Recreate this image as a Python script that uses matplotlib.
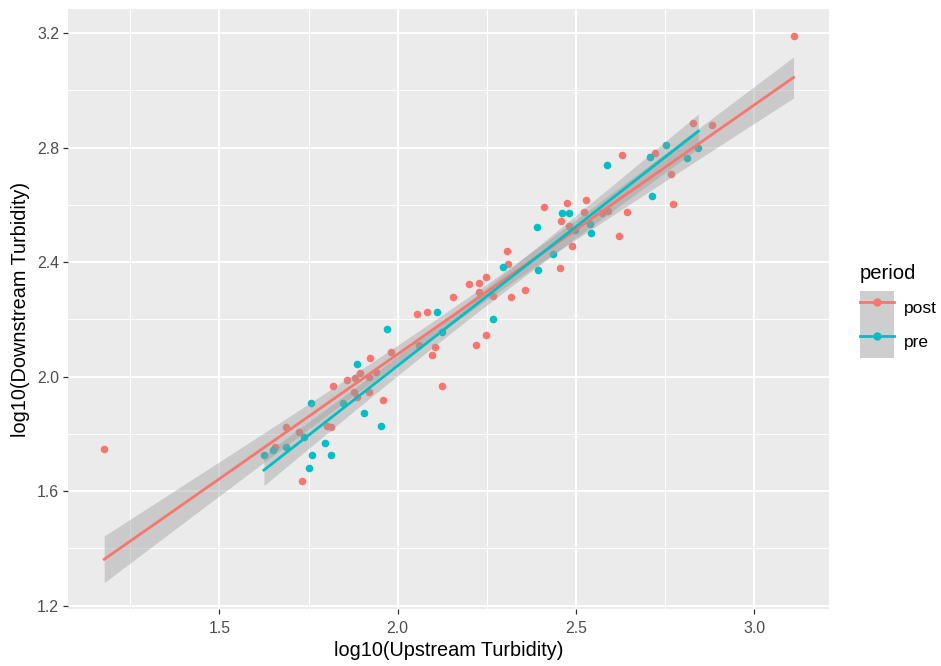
import numpy as np
import matplotlib
matplotlib.use("Agg")
import matplotlib.pyplot as plt
from matplotlib.lines import Line2D
from matplotlib.patches import Patch
from matplotlib.ticker import MultipleLocator, FormatStrFormatter

plt.rcParams['font.family'] = ['Liberation Sans', 'DejaVu Sans']

# log10 turbidity readings
post_up = [1.177, 3.110, 1.733, 1.686, 1.723, 1.656, 1.801, 1.812, 1.818, 1.857,
           1.880, 1.894, 1.922, 1.939, 1.920, 1.878, 1.920, 1.887, 1.958, 1.980,
           2.061, 2.097, 2.105, 2.053, 2.081, 2.125, 2.154, 2.199, 2.228, 2.248,
           2.228, 2.268, 2.317, 2.358, 2.248, 2.219, 2.306, 2.309, 2.454, 2.488,
           2.410, 2.476, 2.529, 2.459, 2.522, 2.480, 2.574, 2.591, 2.642, 2.621,
           2.630, 2.722, 2.766, 2.772, 2.829, 2.882]
post_down = [1.747, 3.190, 1.636, 1.823, 1.806, 1.755, 1.828, 1.825, 1.969, 1.988,
             1.994, 2.014, 2.064, 2.017, 1.998, 1.948, 1.948, 1.928, 1.919, 2.085,
             2.110, 2.075, 2.105, 2.218, 2.227, 1.969, 2.277, 2.323, 2.326, 2.349,
             2.297, 2.282, 2.277, 2.303, 2.146, 2.110, 2.439, 2.394, 2.379, 2.456,
             2.593, 2.606, 2.617, 2.545, 2.577, 2.525, 2.573, 2.580, 2.576, 2.491,
             2.775, 2.780, 2.708, 2.602, 2.886, 2.880]

pre_up = [1.625, 1.649, 1.686, 1.738, 1.756, 1.796, 1.759, 1.813, 1.750, 1.847,
          1.885, 1.905, 1.952, 1.971, 2.109, 2.124, 2.268, 2.295, 2.394, 2.435,
          2.390, 2.460, 2.481, 2.539, 2.541, 2.497, 2.586, 2.708, 2.752, 2.812,
          2.843, 2.712]
pre_down = [1.726, 1.744, 1.755, 1.791, 1.907, 1.767, 1.726, 1.726, 1.680, 1.909,
            2.044, 1.874, 1.827, 2.166, 2.227, 2.155, 2.202, 2.384, 2.373, 2.429,
            2.522, 2.571, 2.571, 2.535, 2.501, 2.514, 2.739, 2.766, 2.809, 2.765,
            2.798, 2.632]

periods = ['post', 'pre']
colours = {'post': '#F8766D', 'pre': '#00BFC4'}
data = {'post': (np.array(post_up), np.array(post_down)),
        'pre': (np.array(pre_up), np.array(pre_down))}


def t975(dof):
    # Cornish-Fisher approximation of the 0.975 t quantile
    z = 1.959964
    return z + (z**3 + z) / (4 * dof) + (5 * z**5 + 16 * z**3 + 3 * z) / (96 * dof**2)


def lm_band(x, y, n=80):
    b, a = np.polyfit(x, y, 1)
    xs = np.linspace(x.min(), x.max(), n)
    fit = a + b * xs
    resid = y - (a + b * x)
    dof = len(x) - 2
    s2 = np.sum(resid**2) / dof
    se = np.sqrt(s2 * (1 / len(x) + (xs - x.mean())**2 / np.sum((x - x.mean())**2)))
    t = t975(dof)
    return xs, fit, fit - t * se, fit + t * se


fig = plt.figure(figsize=(9.41, 6.66), dpi=100)
ax = fig.add_axes([68 / 941, 1 - 609 / 666, (829 - 68) / 941, 600 / 666])
ax.set_facecolor('#EBEBEB')

# points first, smooths on top (ggplot layer order)
for p in periods:
    x, y = data[p]
    ax.scatter(x, y, s=30, color=colours[p], linewidths=0, zorder=3)

for p in periods:
    x, y = data[p]
    xs, fit, lo, hi = lm_band(x, y)
    ax.fill_between(xs, lo, hi, color='#999999', alpha=0.4, lw=0, zorder=4)
    ax.plot(xs, fit, color=colours[p], lw=2.0, zorder=5)

ax.set_xlim(1.0754, 3.2095)
ax.set_ylim(1.1885, 3.2845)
ax.xaxis.set_major_locator(MultipleLocator(0.5))
ax.xaxis.set_minor_locator(MultipleLocator(0.25))
ax.yaxis.set_major_locator(MultipleLocator(0.4))
ax.yaxis.set_minor_locator(MultipleLocator(0.2))
ax.xaxis.set_major_formatter(FormatStrFormatter('%.1f'))
ax.yaxis.set_major_formatter(FormatStrFormatter('%.1f'))
ax.grid(which='major', color='white', lw=1.4)
ax.grid(which='minor', color='white', lw=0.7)
ax.set_axisbelow(True)
for s in ax.spines.values():
    s.set_visible(False)
ax.tick_params(which='major', length=3.5, width=0.9, color='#333333',
               labelsize=11.4, labelcolor='#4D4D4D', pad=3)
ax.tick_params(axis='x', which='major', pad=5)
ax.tick_params(which='minor', length=0)

ax.set_xlabel('log10(Upstream Turbidity)', fontsize=14.3, labelpad=4)
ax.set_ylabel('log10(Downstream Turbidity)', fontsize=14.3, labelpad=5)

# legend: keys drawn by matplotlib, title placed as its own text
handles = [(Patch(facecolor='#CECECE', edgecolor='none'),
            Line2D([], [], color=colours[p], lw=2.0, marker='o', markersize=6,
                   markeredgewidth=0)) for p in periods]
leg = ax.legend(handles, periods, loc='upper left',
                bbox_to_anchor=(860 / 941, 1 - 291 / 666), bbox_transform=fig.transFigure,
                frameon=False, fontsize=12.5,
                handlelength=1.95, handleheight=2.6, labelspacing=0,
                handletextpad=0.6, numpoints=1, borderaxespad=0, borderpad=0)
fig.text(860 / 941, 1 - 279 / 666, 'period', fontsize=14.6, va='baseline', ha='left')

plt.savefig('out.png', dpi=100)
plt.close(None)
